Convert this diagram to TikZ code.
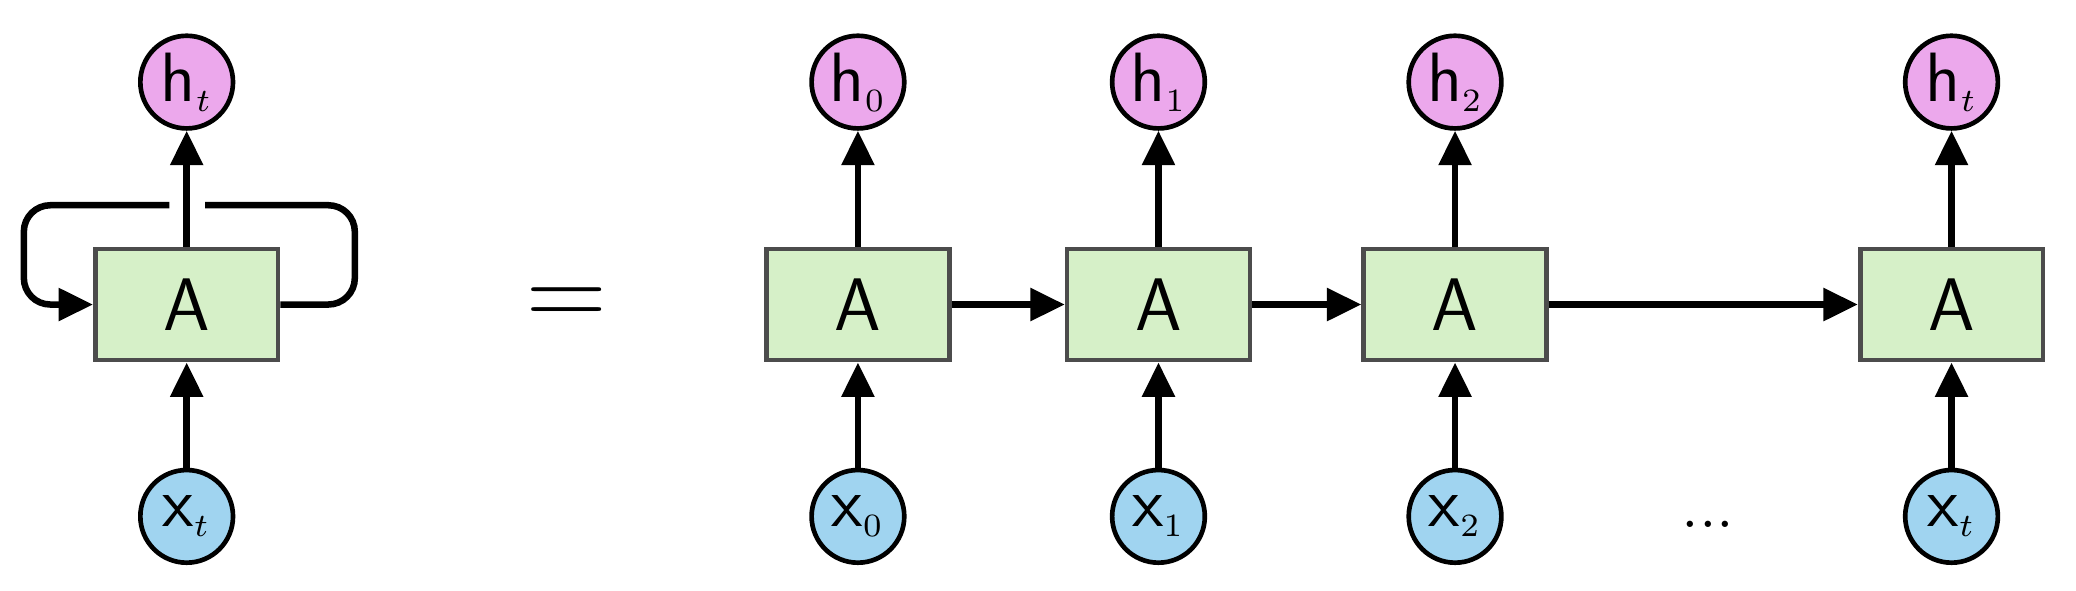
\documentclass[tikz,border=0pt]{standalone}
\usepackage{tikz}
\usetikzlibrary{arrows.meta}
\definecolor{cellgreen}{RGB}{214,240,200}
\definecolor{hpink}{RGB}{236,168,236}
\definecolor{xblue}{RGB}{160,212,240}
\tikzset{
  cell/.style={draw=black!70,fill=cellgreen,line width=1pt,minimum width=13.8mm,minimum height=8.4mm,inner sep=0pt,font=\sffamily\fontsize{16}{18}\selectfont},
  hnode/.style={circle,draw=black,fill=hpink,line width=1pt,minimum size=7mm,inner sep=0pt,font=\sffamily\fontsize{15}{17}\selectfont},
  xnode/.style={circle,draw=black,fill=xblue,line width=1pt,minimum size=7mm,inner sep=0pt,font=\sffamily\fontsize{15}{17}\selectfont},
  flow/.style={line width=1.4pt,-{Triangle[length=2.6mm,width=2.4mm]}}
}
\begin{document}
\begin{tikzpicture}[x=0.1mm,y=-0.1mm]
\useasboundingbox (0,0) rectangle (1568,446);
% rolled network
\node[cell] (A) at (141,230) {A};
\node[hnode] (h) at (141,62) {h$_{\scriptscriptstyle t}$};
\node[xnode] (x) at (141,390) {x$_{\scriptscriptstyle t}$};
\draw[flow] (x) -- (A);
\draw[flow] (A) -- (h);
\coordinate (gl) at (128,155);
\coordinate (gr) at (155,155);
\draw[line width=1.4pt,rounded corners=2mm] (A.east) -- (268,230) -- (268,155) -- (gr);
\draw[flow,rounded corners=2mm] (gl) -- (18,155) -- (18,230) -- (A.west);
\node[font=\fontsize{24}{26}\selectfont] (eq) at (428,232) {=};
% unrolled network
\foreach \i/\px/\sub in {0/648/0,1/875/1,2/1099/2,t/1474/t}{
  \node[cell] (A\i) at (\px,230) {A};
  \node[hnode] (h\i) at (\px,62) {h$_{\scriptscriptstyle \sub}$};
  \node[xnode] (x\i) at (\px,390) {x$_{\scriptscriptstyle \sub}$};
  \draw[flow] (x\i) -- (A\i);
  \draw[flow] (A\i) -- (h\i);
}
\draw[flow] (A0) -- (A1);
\draw[flow] (A1) -- (A2);
\draw[flow] (A2) -- (At);
\node[font=\fontsize{14}{16}\selectfont] (dots) at (1290,396) {...};
\end{tikzpicture}
\end{document}
